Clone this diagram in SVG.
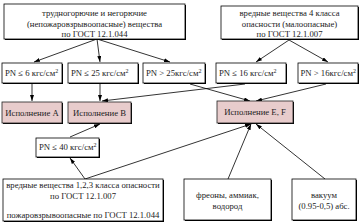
<svg xmlns="http://www.w3.org/2000/svg" width="362" height="224" viewBox="0 0 362 224">
<style>
.box{fill:#fff;stroke:#000;stroke-width:0.8}
.sh{fill:#000}
.exec{fill:#e8cccc;stroke:#222;stroke-width:0.8}
text{font-family:'Liberation Serif','Times New Roman',Times,serif;font-size:8.7px;fill:#222}
.c{text-anchor:middle}
.ln{stroke:#000;stroke-width:0.8;fill:none;marker-end:url(#ah)}
</style>
<defs>
<marker id="ah" markerWidth="6" markerHeight="4" refX="6" refY="2" orient="auto" markerUnits="userSpaceOnUse">
<path d="M0,0 L6,2 L0,4 Z" fill="#000"/>
</marker>
</defs>
<g id="connectors">
<line class="ln" x1="97" y1="39" x2="34" y2="62"/>
<line class="ln" x1="97" y1="39" x2="100" y2="62"/>
<line class="ln" x1="97" y1="39" x2="170" y2="62"/>
<line class="ln" x1="289" y1="40" x2="256" y2="62"/>
<line class="ln" x1="289" y1="40" x2="328" y2="62"/>
<line class="ln" x1="32" y1="84" x2="32" y2="101"/>
<line class="ln" x1="100" y1="84" x2="100" y2="101"/>
<line class="ln" x1="245" y1="84" x2="102" y2="101"/>
<line class="ln" x1="190" y1="84" x2="250" y2="101"/>
<line class="ln" x1="326" y1="84" x2="256" y2="101"/>
<line class="ln" x1="85" y1="179" x2="70" y2="158"/>
<line class="ln" x1="70" y1="137" x2="100" y2="124"/>
<line class="ln" x1="85" y1="179" x2="251" y2="124"/>
<line class="ln" x1="228" y1="179" x2="251" y2="124"/>
<line class="ln" x1="325" y1="179" x2="256" y2="124"/>
</g>
<g id="n1">
<rect class="sh" x="5" y="5" width="181" height="35"/>
<rect class="box" x="4" y="4" width="181" height="35"/>
<text class="c" x="94.5" y="16">трудногорючие и негорючие</text>
<text class="c" x="94.5" y="27">(непожаровзрывоопасные) вещества</text>
<text class="c" x="94.5" y="37">по ГОСТ 12.1.044</text>
</g>
<g id="n2">
<rect class="sh" x="222" y="7" width="137" height="33"/>
<rect class="box" x="221" y="6" width="137" height="33"/>
<text class="c" x="289.5" y="16">вредные вещества 4 класса</text>
<text class="c" x="289.5" y="27">опасности (малоопасные)</text>
<text class="c" x="289.5" y="37">по ГОСТ 12.1.007</text>
</g>
<g id="pn6">
<rect class="sh" x="3" y="64" width="60" height="20"/>
<rect class="box" x="2" y="63" width="60" height="20"/>
<text x="5" y="76">PN ≤ 6 кгс/см<tspan dy="-3" font-size="6">2</tspan></text>
</g>
<g id="pn25">
<rect class="sh" x="69" y="64" width="70" height="20"/>
<rect class="box" x="68" y="63" width="70" height="20"/>
<text x="71" y="76">PN ≤ 25 кгс/см<tspan dy="-3" font-size="6">2</tspan></text>
</g>
<g id="pn25b">
<rect class="sh" x="144" y="64" width="62" height="20"/>
<rect class="box" x="143" y="63" width="62" height="20"/>
<text x="146" y="76">PN &gt; 25кгс/см<tspan dy="-3" font-size="6">2</tspan></text>
</g>
<g id="pn16">
<rect class="sh" x="217" y="64" width="70" height="20"/>
<rect class="box" x="216" y="63" width="70" height="20"/>
<text x="219" y="76">PN ≤ 16 кгс/см<tspan dy="-3" font-size="6">2</tspan></text>
</g>
<g id="pn16b">
<rect class="sh" x="299" y="64" width="60" height="20"/>
<rect class="box" x="298" y="63" width="60" height="20"/>
<text x="300.5" y="76">PN &gt; 16кгс/см<tspan dy="-3" font-size="6">2</tspan></text>
</g>
<g id="ispA">
<rect class="sh" x="3" y="103" width="60" height="21"/>
<rect class="exec" x="2" y="102" width="60" height="21"/>
<text class="c" x="32" y="115.5">Исполнение А</text>
</g>
<g id="ispB">
<rect class="sh" x="69" y="103" width="63" height="21"/>
<rect class="exec" x="68" y="102" width="63" height="21"/>
<text class="c" x="99.5" y="115.5">Исполнение В</text>
</g>
<g id="ispEF">
<rect class="sh" x="218" y="102" width="76" height="22"/>
<rect class="exec" x="217" y="101" width="76" height="22"/>
<text class="c" x="255" y="115">Исполнение E, F</text>
</g>
<g id="pn40">
<rect class="sh" x="37" y="139" width="63" height="19"/>
<rect class="box" x="36" y="138" width="63" height="19"/>
<text x="39" y="150">PN ≤ 40 кгс/см<tspan dy="-3" font-size="6">2</tspan></text>
</g>
<g id="harm">
<rect class="sh" x="4" y="180" width="160" height="42"/>
<rect class="box" x="3" y="179" width="160" height="42"/>
<text class="c" x="83" y="188">вредные вещества 1,2,3 класса опасности</text>
<text class="c" x="83" y="199">по ГОСТ 12.1.007</text>
<text class="c" x="83" y="218">пожаровзрывоопасные по ГОСТ 12.1.044</text>
</g>
<g id="freon">
<rect class="sh" x="185" y="180" width="87" height="41"/>
<rect class="box" x="184" y="179" width="87" height="41"/>
<text class="c" x="227.5" y="198">фреоны, аммиак,</text>
<text class="c" x="227.5" y="209">водород</text>
</g>
<g id="vac">
<rect class="sh" x="293" y="180" width="64" height="41"/>
<rect class="box" x="292" y="179" width="64" height="41"/>
<text class="c" x="324" y="198">вакуум</text>
<text class="c" x="324" y="209">(0.95-0,5) абс.</text>
</g>
</svg>
